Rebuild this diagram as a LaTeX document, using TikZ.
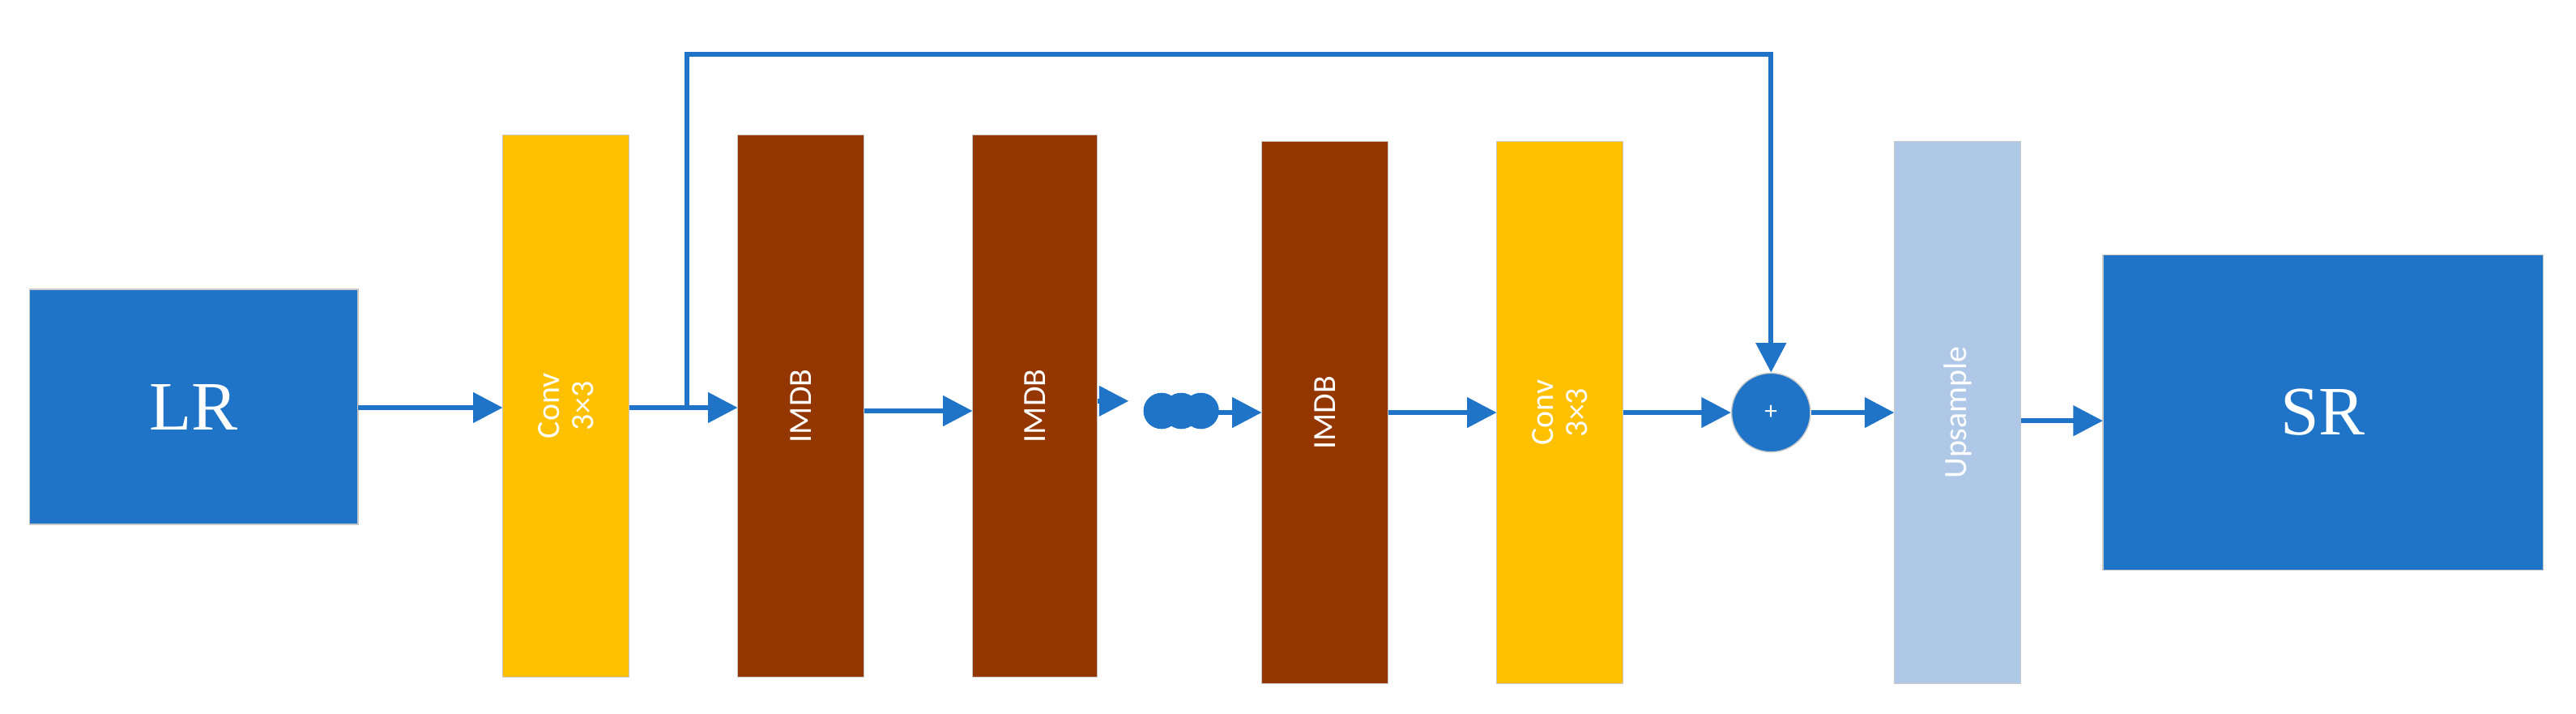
\documentclass[tikz,border=0pt]{standalone}
\usepackage{fontspec}
\setsansfont{Carlito}
\setmainfont{Liberation Serif}
\usetikzlibrary{arrows.meta}
\definecolor{cblue}{HTML}{1F74C8}
\definecolor{cyel}{HTML}{FFC000}
\definecolor{cbrown}{HTML}{943600}
\definecolor{clight}{HTML}{B0C8E8}
\definecolor{cgray}{HTML}{C8C8C8}
\begin{document}
\begin{tikzpicture}[x=0.5mm,y=-0.5mm,
  blk/.style={draw=cgray,line width=1pt,inner sep=0pt},
  vtxt/.style={text=white,font=\sffamily\fontsize{28}{30}\selectfont,rotate=90,align=center},
  arr/.style={draw=cblue,line width=4.3pt,-{Triangle[length=9mm,width=9mm]}},
  ln/.style={draw=cblue,line width=4.3pt}]
\useasboundingbox (0,0) rectangle (1568,434);
\path[blk,fill=cblue] (18,176) rectangle (218,319);
\node[text=white,font=\fontsize{60}{60}\selectfont] (lr) at (118,248) {LR};
\path[blk,fill=cyel] (306,82) rectangle (383,412);
\node[vtxt] (c1) at (344.5,247) {Conv\\3×3};
\path[blk,fill=cbrown] (449,82) rectangle (526,412);
\node[vtxt] (i1) at (487.5,247) {IMDB};
\path[blk,fill=cbrown] (592,82) rectangle (668,412);
\node[vtxt] (i2) at (630,247) {IMDB};
\path[blk,fill=cbrown] (768,86) rectangle (845,416);
\node[vtxt] (i3) at (806.5,251) {IMDB};
\path[blk,fill=cyel] (911,86) rectangle (988,416);
\node[vtxt] (c2) at (949.5,251) {Conv\\3×3};
\path[blk,fill=clight] (1153,86) rectangle (1230,416);
\node[vtxt] (up) at (1191.5,251) {Upsample};
\path[blk,fill=cblue] (1280,155) rectangle (1548,347);
\node[text=white,font=\fontsize{60}{60}\selectfont] (sr) at (1414,251) {SR};
\node[circle,fill=cblue,draw=cgray,line width=1pt,minimum size=24mm,inner sep=0pt,text=white,font=\sffamily\fontsize{22}{22}\selectfont] (plus) at (1078,251) {+};
\coordinate (s0) at (218,248);
\draw[arr] (s0) -- (306,248);
\draw[arr] (383,248) -- (449,248);
\coordinate (sk) at (418,248);
\draw[arr] (sk) |- (1078,33) -- (plus.north);
\draw[arr] (526,250) -- (592,250);
\draw[arr] (668,244) -- (687,244);
\foreach \x in {707,719}{\fill[cblue] (\x,250) circle (5.5mm);}
\fill[cblue] (731,250) circle (5.5mm);
\draw[arr] (731,251) -- (768,251);
\draw[arr] (845,251) -- (911,251);
\draw[arr] (988,251) -- (plus.west);
\draw[arr] (plus.east) -- (1153,251);
\draw[arr] (1230,256) -- (1280,256);
\end{tikzpicture}
\end{document}
